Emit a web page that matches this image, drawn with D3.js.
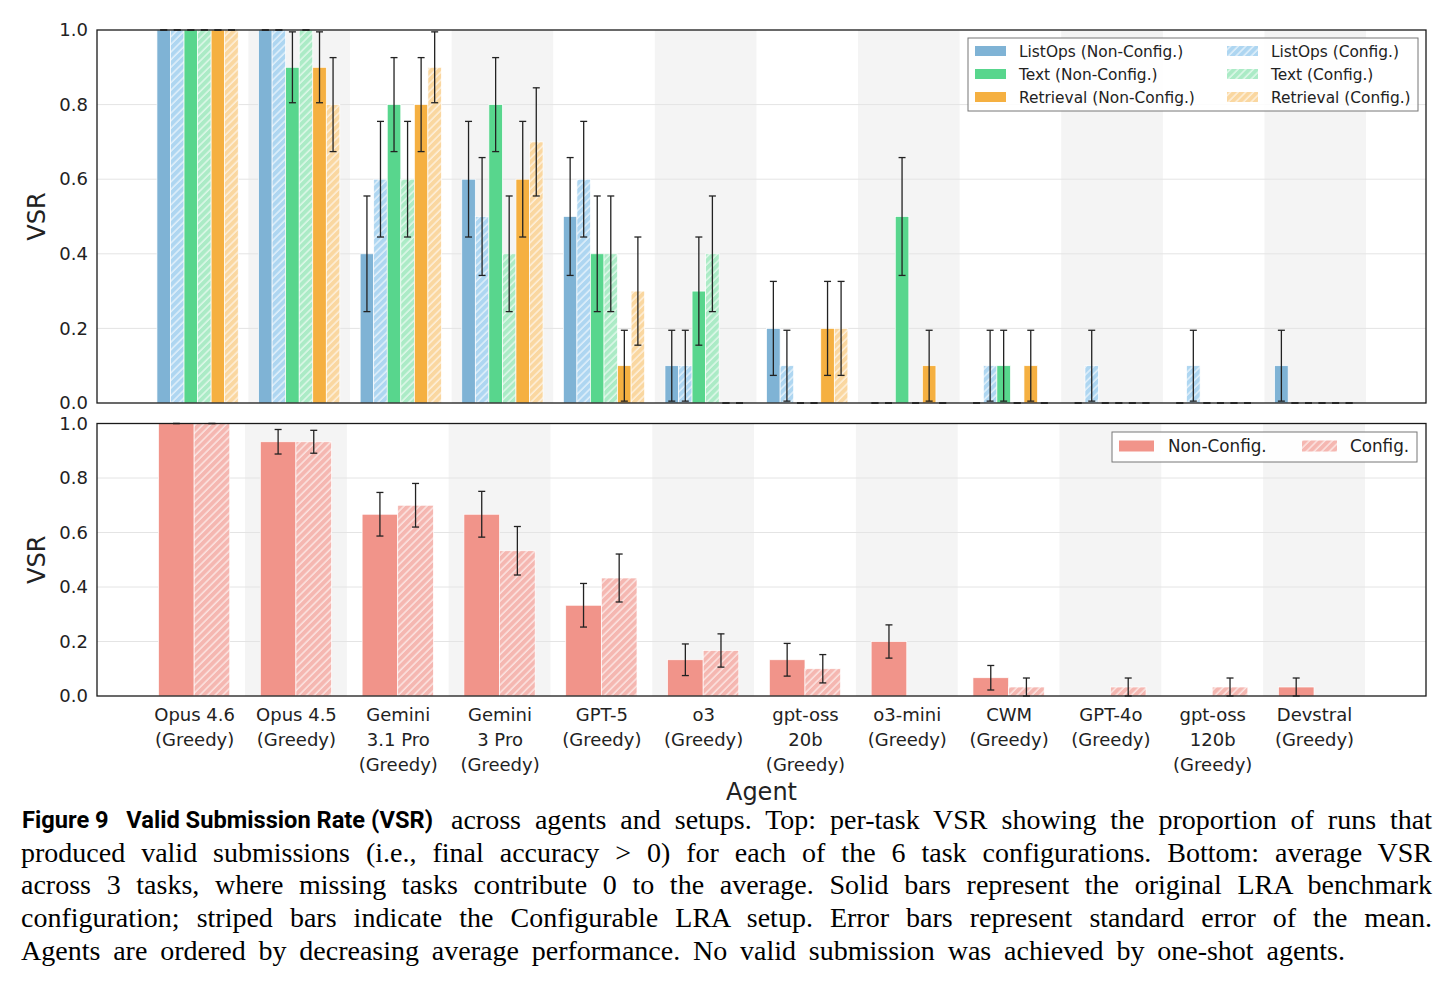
<!DOCTYPE html>
<html>
<head>
<meta charset="utf-8">
<script src="https://cdn.jsdelivr.net/npm/d3@7"></script>
<style>
  body { margin: 0; background: #fff; }
  svg { display: block; }
</style>
</head>
<body>
<svg width="1452" height="985"></svg>
<script>
// agents, in plot order (line breaks as in the tick labels)
var agents = [
    'Opus 4.6\n(Greedy)', 'Opus 4.5\n(Greedy)', 'Gemini\n3.1 Pro\n(Greedy)', 'Gemini\n3 Pro\n(Greedy)',
    'GPT-5\n(Greedy)', 'o3\n(Greedy)', 'gpt-oss\n20b\n(Greedy)', 'o3-mini\n(Greedy)',
    'CWM\n(Greedy)', 'GPT-4o\n(Greedy)', 'gpt-oss\n120b\n(Greedy)', 'Devstral\n(Greedy)'
];

// top panel: per-task VSR
var taskNames = ['ListOps (Non-Config.)', 'ListOps (Config.)', 'Text (Non-Config.)',
    'Text (Config.)', 'Retrieval (Non-Config.)', 'Retrieval (Config.)'];
var listopsNC = [1, 1, 0.4, 0.6, 0.5, 0.1, 0.2, 0, 0, 0, 0, 0.1];
var listopsC  = [1, 1, 0.6, 0.5, 0.6, 0.1, 0.1, 0, 0.1, 0.1, 0.1, 0];
var textNC    = [1, 0.9, 0.8, 0.8, 0.4, 0.3, 0, 0.5, 0.1, 0, 0, 0];
var textC     = [1, 1, 0.6, 0.4, 0.4, 0.4, 0, 0, 0, 0, 0, 0];
var retrNC    = [1, 0.9, 0.8, 0.6, 0.1, 0, 0.2, 0.1, 0.1, 0, 0, 0];
var retrC     = [1, 0.8, 0.9, 0.7, 0.3, 0, 0.2, 0, 0, 0, 0, 0];
var listopsNCErr = [0, 0, 0.155, 0.155, 0.158, 0.095, 0.126, 0, 0, 0, 0, 0.095];
var listopsCErr  = [0, 0, 0.155, 0.158, 0.155, 0.095, 0.095, 0, 0.095, 0.095, 0.095, 0];
var textNCErr    = [0, 0.095, 0.126, 0.126, 0.155, 0.145, 0, 0.158, 0.095, 0, 0, 0];
var textCErr     = [0, 0, 0.155, 0.155, 0.155, 0.155, 0, 0, 0, 0, 0, 0];
var retrNCErr    = [0, 0.095, 0.126, 0.155, 0.095, 0, 0.126, 0.095, 0.095, 0, 0, 0];
var retrCErr     = [0, 0.126, 0.095, 0.145, 0.145, 0, 0.126, 0, 0, 0, 0, 0];

// bottom panel: average VSR over the 3 tasks
var setupNames = ['Non-Config.', 'Config.'];
var avgNC = [1, 0.933, 0.667, 0.667, 0.333, 0.133, 0.133, 0.2, 0.067, 0, 0, 0.033];
var avgC  = [1, 0.933, 0.7, 0.533, 0.433, 0.167, 0.1, 0, 0.033, 0.033, 0.033, 0];
var avgNCErr = [0, 0.045, 0.08, 0.084, 0.08, 0.058, 0.06, 0.061, 0.045, 0, 0, 0.033];
var avgCErr  = [0, 0.042, 0.08, 0.089, 0.088, 0.061, 0.052, 0, 0.033, 0.033, 0.033, 0];

var yTicks = [0, 0.2, 0.4, 0.6, 0.8, 1.0];

var captionBold = 'Figure 9\u00a0\u00a0 Valid Submission Rate (VSR)';
var captionLines = [
    'across agents and setups. Top: per-task VSR showing the proportion of runs that',
    'produced valid submissions (i.e., final accuracy > 0) for each of the 6 task configurations. Bottom: average VSR',
    'across 3 tasks, where missing tasks contribute 0 to the average. Solid bars represent the original LRA benchmark',
    'configuration; striped bars indicate the Configurable LRA setup. Error bars represent standard error of the mean.',
    'Agents are ordered by decreasing average performance. No valid submission was achieved by one-shot agents.'
];

var taskColors = ['#7fb3d5', '#aed6f1', '#58d68d', '#abebc6', '#f5b041', '#fad7a0'];
var avgColors = ['#f1948a', '#f5b7b1'];
var sans = '"DejaVu Sans", sans-serif';
var ink = '#222';

var topSeries = taskNames.map(function (n, i) {
    return {
        name: n,
        values: [listopsNC, listopsC, textNC, textC, retrNC, retrC][i],
        err: [listopsNCErr, listopsCErr, textNCErr, textCErr, retrNCErr, retrCErr][i],
        color: taskColors[i],
        hatched: i % 2 === 1
    };
});
var botSeries = setupNames.map(function (n, i) {
    return {
        name: n,
        values: [avgNC, avgC][i],
        err: [avgNCErr, avgCErr][i],
        color: avgColors[i],
        hatched: i === 1
    };
});

var svg = d3.select('svg');
svg.append('rect').attr('width', 1452).attr('height', 985).attr('fill', '#fff');
var defs = svg.append('defs');

function hatchFill(color) {
    var id = 'h' + color.slice(1);
    if (defs.select('#' + id).empty()) {
        var p = defs.append('pattern')
            .attr('id', id)
            .attr('patternUnits', 'userSpaceOnUse')
            .attr('width', 5.4).attr('height', 5.4)
            .attr('patternTransform', 'rotate(45)');
        p.append('rect').attr('width', 5.4).attr('height', 5.4).attr('fill', color);
        p.append('line').attr('x1', 1).attr('y1', 0).attr('x2', 1).attr('y2', 5.4)
            .attr('stroke', '#fff').attr('stroke-width', 1.1).attr('stroke-opacity', 0.85);
    }
    return 'url(#' + id + ')';
}

var topX = d3.scaleLinear().domain([-0.99, 12.09]).range([97, 1426]);
var topY = d3.scaleLinear().domain([0, 1]).range([403, 30]);
var botX = d3.scaleLinear().domain([-0.954, 12.1]).range([97, 1426]);
var botY = d3.scaleLinear().domain([0, 1]).range([696, 423.5]);

function drawFrame(x, y) {
    var g = svg.append('g');
    // alternating background bands
    g.selectAll('rect.band')
        .data(d3.range(agents.length).filter(function (i) { return i % 2 === 1; }))
        .enter().append('rect')
        .attr('class', 'band')
        .attr('x', function (i) { return x(i - 0.5); })
        .attr('width', x(1) - x(0))
        .attr('y', y(1))
        .attr('height', y(0) - y(1))
        .attr('fill', '#f4f4f4');
    // grid
    g.selectAll('line.grid')
        .data(yTicks.slice(1, -1))
        .enter().append('line')
        .attr('class', 'grid')
        .attr('x1', x.range()[0]).attr('x2', x.range()[1])
        .attr('y1', y).attr('y2', y)
        .attr('stroke', '#e4e4e4').attr('stroke-width', 1);
    // y axis
    var ya = svg.append('g')
        .attr('transform', 'translate(' + x.range()[0] + ',0)')
        .call(d3.axisLeft(y).tickValues(yTicks).tickFormat(d3.format('.1f')).tickSize(0).tickPadding(9));
    ya.select('.domain').remove();
    ya.selectAll('text').attr('font-family', sans).attr('font-size', 18).attr('fill', ink);
    svg.append('text')
        .attr('transform', 'translate(45,' + (y(0) + y(1)) / 2 + ') rotate(-90)')
        .attr('text-anchor', 'middle')
        .attr('font-family', sans).attr('font-size', 24).attr('fill', ink)
        .text('VSR');
}

function drawBars(series, x, y, bw, capZeros) {
    var n = series.length;
    series.forEach(function (s, si) {
        var off = (si - (n - 1) / 2) * bw;
        var g = svg.append('g');
        g.selectAll('rect')
            .data(s.values)
            .enter().append('rect')
            .attr('x', function (v, i) { return x(i + off - bw / 2); })
            .attr('width', x(bw) - x(0))
            .attr('y', function (v) { return y(v); })
            .attr('height', function (v) { return y(0) - y(v); })
            .attr('fill', s.hatched ? hatchFill(s.color) : s.color)
            .attr('stroke', '#fff').attr('stroke-width', 0.7);
    });
    series.forEach(function (s, si) {
        var off = (si - (n - 1) / 2) * bw;
        var g = svg.append('g').attr('stroke', ink).attr('stroke-width', 1.3);
        s.values.forEach(function (v, i) {
            if (v === 0 && !capZeros) return;
            var cx = x(i + off), e = s.err[i];
            g.append('line').attr('x1', cx).attr('x2', cx).attr('y1', y(v - e)).attr('y2', y(v + e));
            [v - e, v + e].forEach(function (t) {
                g.append('line').attr('x1', cx - 3.5).attr('x2', cx + 3.5).attr('y1', y(t)).attr('y2', y(t));
            });
        });
    });
}

function drawSpines(x, y) {
    svg.append('rect')
        .attr('x', x.range()[0]).attr('y', y(1))
        .attr('width', x.range()[1] - x.range()[0]).attr('height', y(0) - y(1))
        .attr('fill', 'none').attr('stroke', '#1a1a1a').attr('stroke-width', 1.3);
}

// ---- top panel
drawFrame(topX, topY);
drawBars(topSeries, topX, topY, 0.8 / 6, true);
drawSpines(topX, topY);

// ---- bottom panel
drawFrame(botX, botY);
drawBars(botSeries, botX, botY, 0.35, false);
drawSpines(botX, botY);

var xa = svg.append('g')
    .attr('transform', 'translate(0,' + botY(0) + ')')
    .call(d3.axisBottom(botX).tickValues(d3.range(agents.length))
        .tickFormat(function (i) { return agents[i]; }).tickSize(0));
xa.select('.domain').remove();
xa.selectAll('text').each(function (d) {
    var t = d3.select(this);
    var lines = agents[d].split('\n');
    t.text(null).attr('y', null).attr('dy', null)
        .attr('font-family', sans).attr('font-size', 18).attr('fill', ink);
    lines.forEach(function (l, k) {
        t.append('tspan').attr('x', 0).attr('y', 24.5 + k * 25).text(l);
    });
});
svg.append('text')
    .attr('x', (botX.range()[0] + botX.range()[1]) / 2).attr('y', 800)
    .attr('text-anchor', 'middle')
    .attr('font-family', sans).attr('font-size', 24).attr('fill', ink)
    .text('Agent');

// ---- legends
function legend(items, box, cols, font) {
    var g = svg.append('g');
    g.append('rect')
        .attr('x', box.x).attr('y', box.y).attr('width', box.w).attr('height', box.h)
        .attr('fill', '#fff').attr('fill-opacity', 0.85)
        .attr('stroke', '#777').attr('stroke-width', 1);
    items.forEach(function (s, i) {
        var c = cols[Math.floor(i / cols.rows)];
        var row = i % cols.rows;
        var cy = box.y + cols.top + row * cols.step;
        g.append('rect')
            .attr('x', c.px).attr('y', cy - cols.ph / 2).attr('width', cols.pw).attr('height', cols.ph)
            .attr('fill', s.hatched ? hatchFill(s.color) : s.color);
        g.append('text')
            .attr('x', c.tx).attr('y', cy + font * 0.36)
            .attr('font-family', sans).attr('font-size', font).attr('fill', ink)
            .text(s.name);
    });
}
// column-major: first column = non-config series
var topLegendItems = [topSeries[0], topSeries[2], topSeries[4], topSeries[1], topSeries[3], topSeries[5]];
var topCols = [{ px: 975, tx: 1019 }, { px: 1227, tx: 1271 }];
topCols.rows = 3; topCols.top = 13; topCols.step = 23; topCols.pw = 31; topCols.ph = 10;
legend(topLegendItems, { x: 968, y: 38, w: 450, h: 73 }, topCols, 15.4);

var botCols = [{ px: 1119, tx: 1168 }, { px: 1302, tx: 1350 }];
botCols.rows = 1; botCols.top = 14; botCols.step = 0; botCols.pw = 35; botCols.ph = 11;
legend(botSeries, { x: 1112, y: 432, w: 305, h: 30 }, botCols, 16.8);

// ---- caption
var cap = svg.append('g').attr('fill', '#000');
cap.append('text')
    .attr('x', 22).attr('y', 828)
    .attr('font-family', 'Roboto, "Liberation Sans", sans-serif').attr('font-weight', 700)
    .attr('font-size', 24)
    .attr('textLength', 411).attr('lengthAdjust', 'spacingAndGlyphs')
    .text(captionBold);

function justify(text, x, y, width) {
    var t = cap.append('text')
        .attr('x', x).attr('y', y)
        .attr('font-family', '"Liberation Serif", "DejaVu Serif", serif')
        .attr('font-size', 28)
        .text(text);
    var natural = t.node().getComputedTextLength();
    var spaces = text.split(' ').length - 1;
    t.attr('word-spacing', (width - natural) / spaces);
}
var capBase = 829, capStep = 32.7;
justify(captionLines[0], 451, capBase, 1432 - 451);
justify(captionLines[1], 21, capBase + capStep, 1411);
justify(captionLines[2], 21, capBase + 2 * capStep, 1411);
justify(captionLines[3], 21, capBase + 3 * capStep, 1411);
justify(captionLines[4], 21, capBase + 4 * capStep, 1345 - 21);
</script>
</body>
</html>
